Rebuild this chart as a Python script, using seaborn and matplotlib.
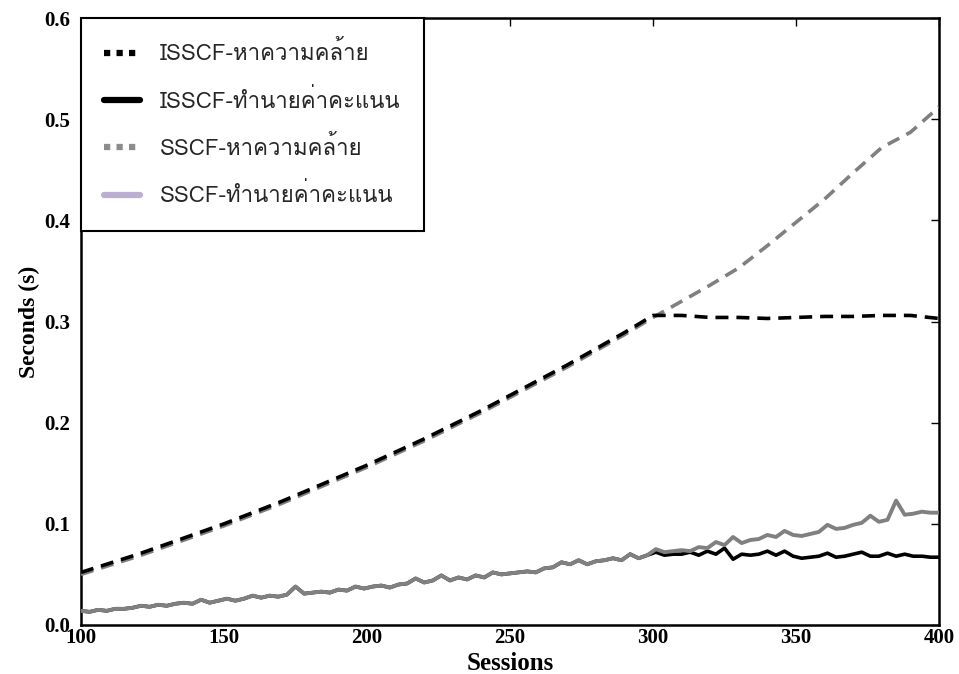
import matplotlib
matplotlib.use("Agg")
import matplotlib.pyplot as plt
from matplotlib import font_manager
from matplotlib.ft2font import FT2Font
from matplotlib.lines import Line2D
from matplotlib.font_manager import FontProperties
import numpy as np
import pandas as pd
import seaborn as sns

# ---------------- data ----------------
sim_sessions = [100, 110, 120, 130, 140, 150, 160, 170, 180, 190, 200,
                210, 220, 230, 240, 250, 260, 270, 280, 290, 300,
                310, 320, 330, 340, 350, 360, 370, 380, 390, 400]
isscf_sim = [0.052, 0.061, 0.070, 0.080, 0.090, 0.100, 0.111, 0.122, 0.134, 0.146, 0.158,
             0.171, 0.184, 0.198, 0.212, 0.227, 0.242, 0.257, 0.273, 0.289, 0.306,
             0.306, 0.304, 0.304, 0.303, 0.304, 0.305, 0.305, 0.306, 0.306, 0.303]
sscf_sim = [0.050, 0.059, 0.068, 0.078, 0.088, 0.098, 0.109, 0.120, 0.132, 0.144, 0.156,
            0.169, 0.182, 0.196, 0.210, 0.225, 0.240, 0.255, 0.271, 0.287, 0.304,
            0.320, 0.336, 0.353, 0.375, 0.398, 0.421, 0.447, 0.472, 0.487, 0.512]

pred_common_sessions = list(range(100, 299, 3))
pred_common = [0.014, 0.013, 0.015, 0.014, 0.016, 0.016, 0.017, 0.019, 0.018, 0.020,
               0.019, 0.021, 0.022, 0.021, 0.025, 0.022, 0.024, 0.026, 0.024, 0.026,
               0.029, 0.027, 0.029, 0.028, 0.030, 0.038, 0.031, 0.032, 0.033, 0.032,
               0.035, 0.034, 0.038, 0.036, 0.038, 0.039, 0.037, 0.040, 0.041, 0.046,
               0.042, 0.044, 0.049, 0.044, 0.047, 0.045, 0.049, 0.047, 0.052, 0.050,
               0.051, 0.052, 0.053, 0.052, 0.056, 0.057, 0.062, 0.060, 0.064, 0.060,
               0.063, 0.064, 0.066, 0.064, 0.070, 0.066, 0.069]
pred_tail_sessions = list(range(301, 401, 3))
isscf_pred_tail = [0.072, 0.069, 0.070, 0.070, 0.072, 0.069, 0.073, 0.070, 0.076, 0.065,
                   0.070, 0.069, 0.070, 0.073, 0.069, 0.073, 0.068, 0.066, 0.067, 0.068,
                   0.071, 0.067, 0.068, 0.070, 0.072, 0.068, 0.068, 0.071, 0.068, 0.070,
                   0.068, 0.068, 0.067, 0.067]
sscf_pred_tail = [0.075, 0.072, 0.073, 0.074, 0.073, 0.077, 0.076, 0.082, 0.079, 0.087,
                  0.081, 0.084, 0.085, 0.089, 0.087, 0.093, 0.089, 0.088, 0.090, 0.092,
                  0.099, 0.095, 0.096, 0.099, 0.101, 0.108, 0.102, 0.104, 0.123, 0.109,
                  0.110, 0.112, 0.111, 0.111]

labels = ["ISSCF-หาความคล้าย", "ISSCF-ทำนายค่าคะแนน",
          "SSCF-หาความคล้าย", "SSCF-ทำนายค่าคะแนน"]
x_ticks = [100, 150, 200, 250, 300, 350, 400]
y_ticks = [0.0, 0.1, 0.2, 0.3, 0.4, 0.5, 0.6]

# ---------------- fonts ----------------
sns.set_style("white")

def find_thai_font():
    prefs = ["Tahoma", "Loma", "Garuda", "Noto Sans Thai", "Sarabun", "Waree",
             "Umpush", "Kinnari", "Norasi", "Laksaman", "Sawasdee"]
    found = {}
    for f in font_manager.fontManager.ttflist:
        try:
            cm = FT2Font(f.fname).get_charmap()
        except Exception:
            continue
        if 0x0E2B in cm and 0x0E33 in cm and 0x0049 in cm:
            found.setdefault(f.name, f.fname)
    for p in prefs:
        for n in found:
            if n.lower().startswith(p.lower()):
                return n
    for n in found:
        return n
    return None

thai = find_thai_font()
legend_family = [thai, "DejaVu Sans"] if thai else ["DejaVu Sans"]
serif = ["Liberation Serif", "DejaVu Serif"]
plt.rcParams["font.family"] = serif

# ---------------- figure ----------------
fig = plt.figure(figsize=(9.59, 6.74), dpi=100)
ax = fig.add_axes([81 / 959, 49 / 674, 858 / 959, 607 / 674])

px = pred_common_sessions + [298] + pred_tail_sessions
sns.lineplot(x=px, y=pred_common + [pred_common[-1]] + isscf_pred_tail,
             ax=ax, color="black", lw=2.6, zorder=2)
sns.lineplot(x=px, y=pred_common + [pred_common[-1]] + sscf_pred_tail,
             ax=ax, color="#808080", lw=2.8, zorder=3)
sns.lineplot(x=sim_sessions, y=sscf_sim, ax=ax, color="#808080", lw=2.6, zorder=4)
ax.lines[-1].set_dashes((3.6, 2.2))
sns.lineplot(x=sim_sessions, y=isscf_sim, ax=ax, color="black", lw=2.6, zorder=5)
ax.lines[-1].set_dashes((3.6, 2.2))

ax.set_xlim(100, 400)
ax.set_ylim(0, 0.6)
ax.set_xticks(x_ticks)
ax.set_yticks(y_ticks)
ax.set_xticklabels([str(v) for v in x_ticks], fontsize=15, fontweight="bold")
ax.set_yticklabels([f"{v:.1f}" for v in y_ticks], fontsize=15, fontweight="bold")
ax.tick_params(direction="in", length=6, width=1, top=True, right=True,
               colors="black", labelcolor="black")
ax.tick_params(axis="x", pad=2)
ax.tick_params(axis="y", pad=8)
for s in ax.spines.values():
    s.set_color("black")
    s.set_linewidth(1.8)

ax.set_xlabel("Sessions", fontsize=18, fontweight="bold", labelpad=3, color="black")
ax.set_ylabel("Seconds (s)", fontsize=17, fontweight="bold", labelpad=3, color="black")

handles = [
    Line2D([], [], color="black", lw=4.5, dashes=(1, 1)),
    Line2D([], [], color="black", lw=4.5),
    Line2D([], [], color="#8c8c8c", lw=4.5, dashes=(1, 1)),
    Line2D([], [], color="#bcaed0", lw=4.5),
]
leg = ax.legend(handles, labels, loc="upper left", bbox_to_anchor=(0, 1),
                prop=FontProperties(family=legend_family, size=16),
                frameon=True, fancybox=False, borderpad=1.05, labelspacing=1.05,
                handlelength=1.6, handletextpad=0.9, borderaxespad=0)
leg.get_frame().set_edgecolor("black")
leg.get_frame().set_linewidth(1.5)
leg.get_frame().set_alpha(1)

fig.savefig("out.png", dpi=100)
